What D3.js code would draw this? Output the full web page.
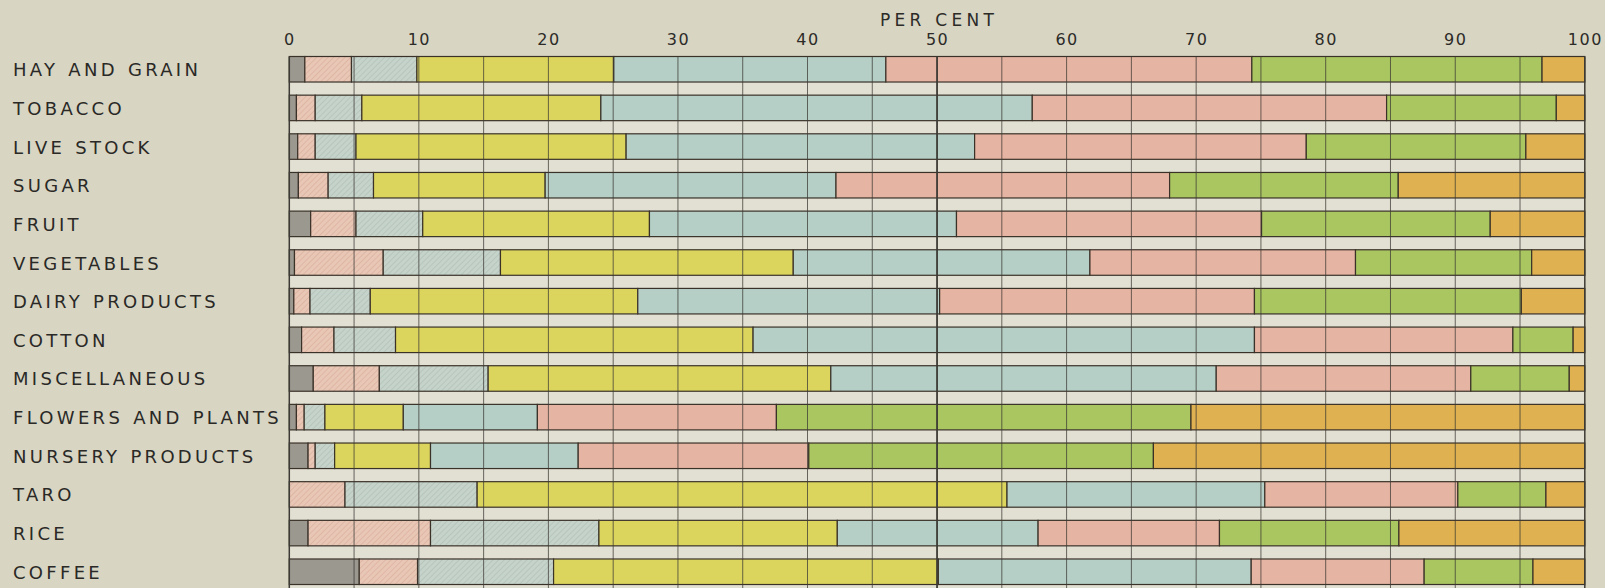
<!DOCTYPE html>
<html>
<head>
<meta charset="utf-8">
<script src="https://cdn.jsdelivr.net/npm/d3@7"></script>
<style>
  html, body { margin: 0; padding: 0; background: #d8d5c3; }
  svg { display: block; }
</style>
</head>
<body>
<svg id="chart" width="1605" height="588"></svg>
<script>
// rows, top to bottom
var crops = [
    'HAY AND GRAIN', 'TOBACCO', 'LIVE STOCK', 'SUGAR', 'FRUIT', 'VEGETABLES',
    'DAIRY PRODUCTS', 'COTTON', 'MISCELLANEOUS', 'FLOWERS AND PLANTS',
    'NURSERY PRODUCTS', 'TARO', 'RICE', 'COFFEE'
];

// share (per cent) of each class, one value per row, left to right in the bar
var grayShare   = [1.2, 0.55, 0.65, 0.7, 1.65, 0.4, 0.35, 0.95, 1.85, 0.55, 1.45, 0, 1.45, 5.4];
var pinkHShare  = [3.6, 1.45, 1.35, 2.3, 3.5, 6.85, 1.25, 2.5, 5.1, 0.6, 0.55, 4.3, 9.45, 4.5];
var blueHShare  = [5.05, 3.6, 3.15, 3.5, 5.15, 9.05, 4.65, 4.75, 8.4, 1.6, 1.5, 10.2, 13.0, 10.5];
var yellowShare = [15.2, 18.45, 20.85, 13.25, 17.5, 22.6, 20.65, 27.6, 26.45, 6.05, 7.4, 40.9, 18.4, 29.7];
var blueShare   = [21.0, 33.3, 26.9, 22.45, 23.7, 22.9, 23.3, 38.7, 29.75, 10.35, 11.4, 19.9, 15.5, 24.15];
var pinkShare   = [28.25, 27.35, 25.6, 25.75, 23.55, 20.5, 24.3, 19.95, 19.65, 18.45, 17.8, 14.9, 14.0, 13.35];
var greenShare  = [22.4, 13.1, 16.95, 17.65, 17.65, 13.6, 20.6, 4.65, 7.6, 32.0, 26.6, 6.8, 13.85, 8.4];
var orangeShare = [3.3, 2.2, 4.55, 14.4, 7.3, 4.1, 4.9, 0.9, 1.2, 30.4, 33.3, 3.0, 14.35, 4.0];

var tickValues = [0, 10, 20, 30, 40, 50, 60, 70, 80, 90, 100];
var classes = ['gray', 'pinkH', 'blueH', 'yellow', 'blue', 'pink', 'green', 'orange'];

var svg = d3.select('#chart');
var plotLeft = 289.3, plotRight = 1584.8, plotTop = 56.5, plotBottom = 588;

var x = d3.scaleLinear().domain([0, 100]).range([plotLeft, plotRight]);
var y = d3.scaleBand().domain(crops).range([plotTop, 584.5]).paddingInner(0.34).paddingOuter(0);

// build table for the stack
var series = [grayShare, pinkHShare, blueHShare, yellowShare, blueShare, pinkShare, greenShare, orangeShare];
var table = crops.map(function (c, i) {
    var row = { crop: c };
    classes.forEach(function (k, j) { row[k] = series[j][i]; });
    return row;
});
var stacked = d3.stack().keys(classes)(table);

// hatch patterns
var defs = svg.append('defs');
function hatch(id, base, line) {
    var p = defs.append('pattern')
        .attr('id', id)
        .attr('patternUnits', 'userSpaceOnUse')
        .attr('width', 4).attr('height', 4)
        .attr('patternTransform', 'rotate(45)');
    p.append('rect').attr('width', 4).attr('height', 4).attr('fill', base);
    p.append('line').attr('x1', 0).attr('y1', 0).attr('x2', 0).attr('y2', 4)
        .attr('stroke', line).attr('stroke-width', 1.3);
}
hatch('hPink', '#e9c7b6', '#d8ad9b');
hatch('hBlue', '#c6d3ca', '#adc0b6');

var fills = {
    gray: '#9b988f',
    pinkH: 'url(#hPink)',
    blueH: 'url(#hBlue)',
    yellow: '#dcd55d',
    blue: '#b5cfc6',
    pink: '#e6b4a2',
    green: '#a9c660',
    orange: '#dfb150'
};

// light band behind the bars
svg.append('rect')
    .attr('x', plotLeft).attr('y', plotTop)
    .attr('width', plotRight - plotLeft).attr('height', plotBottom - plotTop)
    .attr('fill', '#e2e0d3');

// bars
svg.append('g')
    .selectAll('g')
    .data(stacked)
    .enter()
    .append('g')
    .attr('fill', function (d) { return fills[d.key]; })
    .selectAll('rect')
    .data(function (d) { return d.filter(function (s) { return s[1] - s[0] > 0; }); })
    .enter()
    .append('rect')
    .attr('x', function (d) { return x(d[0]); })
    .attr('y', function (d) { return y(d.data.crop); })
    .attr('width', function (d) { return x(d[1]) - x(d[0]); })
    .attr('height', y.bandwidth())
    .attr('stroke', '#3a3229')
    .attr('stroke-width', 1.2);

// grid lines every 5 per cent
svg.append('g')
    .selectAll('line')
    .data(d3.range(0, 101, 5))
    .enter()
    .append('line')
    .attr('x1', function (d) { return x(d); })
    .attr('x2', function (d) { return x(d); })
    .attr('y1', plotTop)
    .attr('y2', plotBottom)
    .attr('stroke', '#3c3a34')
    .attr('stroke-opacity', function (d) { return (d === 0 || d === 100 || d === 50) ? 1 : 0.75; })
    .attr('stroke-width', function (d) { return d === 50 ? 1.8 : (d === 0 || d === 100 ? 1.5 : 1); });

// tick labels on top
var axis = svg.append('g')
    .attr('transform', 'translate(0,44.5)')
    .call(d3.axisTop(x).tickValues(tickValues).tickSize(0).tickPadding(0));
axis.select('.domain').remove();
axis.selectAll('text')
    .attr('font-family', 'DejaVu Sans, sans-serif')
    .attr('font-size', 16)
    .attr('letter-spacing', 1.5)
    .attr('fill', '#2c2b28');

svg.append('text')
    .attr('x', x(50) + 2)
    .attr('y', 26)
    .attr('text-anchor', 'middle')
    .attr('font-family', 'DejaVu Sans, sans-serif')
    .attr('font-size', 17)
    .attr('letter-spacing', 4.3)
    .attr('fill', '#2c2b28')
    .text('PER CENT');

// row labels
svg.append('g')
    .selectAll('text')
    .data(crops)
    .enter()
    .append('text')
    .attr('x', 13)
    .attr('y', function (d) { return y(d) + y.bandwidth() / 2 + 7; })
    .attr('font-family', 'DejaVu Sans, sans-serif')
    .attr('font-size', 18)
    .attr('letter-spacing', 3.3)
    .attr('word-spacing', 1)
    .attr('fill', '#2a2926')
    .text(function (d) { return d; });
</script>
</body>
</html>
